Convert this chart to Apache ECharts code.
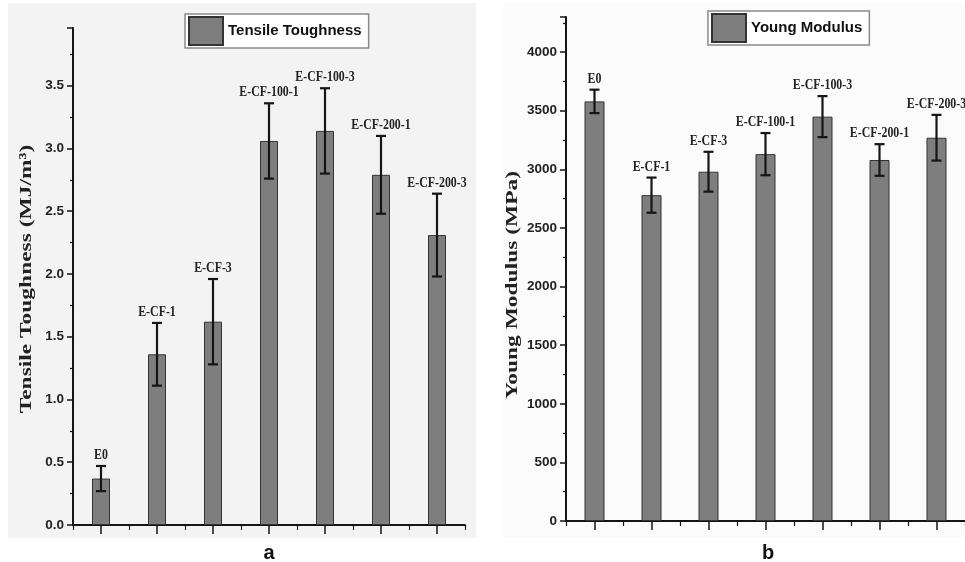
<!DOCTYPE html>
<html>
<head>
<meta charset="utf-8">
<script src="https://cdn.jsdelivr.net/npm/echarts@6/dist/echarts.min.js"></script>
<style>html,body{margin:0;padding:0;background:#fff}#c{width:965px;height:562px}</style>
</head>
<body>
<div id="c"></div>
<script>
const categories = ['E0', 'E-CF-1', 'E-CF-3', 'E-CF-100-1', 'E-CF-100-3', 'E-CF-200-1', 'E-CF-200-3'];
const toughness = [0.37, 1.36, 1.62, 3.06, 3.14, 2.79, 2.31];
const toughnessErr = [0.10, 0.25, 0.34, 0.30, 0.34, 0.31, 0.33];
const modulus = [3580, 2780, 2980, 3130, 3450, 3080, 3270];
const modulusErr = [100, 150, 170, 180, 175, 135, 195];

const SANS = '"Liberation Sans", Arial, sans-serif';
const SERIF = '"Liberation Serif", "Times New Roman", serif';
const INK = '#151515';

function errRender(params, api) {
  const i = api.value(0), v = api.value(1), e = api.value(2);
  const top = api.coord([i, v + e]);
  const bot = api.coord([i, v - e]);
  const hw = 5;
  const st = { stroke: INK, lineWidth: 2.2 };
  return {
    type: 'group',
    children: [
      { type: 'line', shape: { x1: top[0], y1: top[1], x2: bot[0], y2: bot[1] }, style: st },
      { type: 'line', shape: { x1: top[0] - hw, y1: top[1], x2: top[0] + hw, y2: top[1] }, style: st },
      { type: 'line', shape: { x1: bot[0] - hw, y1: bot[1], x2: bot[0] + hw, y2: bot[1] }, style: st },
      { type: 'text', x: top[0], y: top[1] - 3, scaleY: 1.22, scaleX: 0.95,
        style: { text: categories[i], align: 'center', verticalAlign: 'bottom',
                 font: 'bold 12.5px ' + SERIF, fill: '#222' } }
    ]
  };
}

function xAxes(gridIndex) {
  return [
    { gridIndex, type: 'category', position: 'bottom', data: categories, boundaryGap: true,
      axisLine: { show: true, lineStyle: { color: INK, width: 2 } },
      axisTick: { show: true, alignWithLabel: true, interval: 0, length: 9, lineStyle: { color: INK, width: 1.5 } },
      axisLabel: { show: false }, splitLine: { show: false } },
    { gridIndex, type: 'category', position: 'bottom', data: categories, boundaryGap: true,
      axisLine: { show: false },
      axisTick: { show: true, alignWithLabel: false, interval: 0, length: 5, lineStyle: { color: INK, width: 1.2 } },
      axisLabel: { show: false }, splitLine: { show: false } }
  ];
}

function yAxis(gridIndex, max, interval, fmt) {
  return {
    gridIndex, type: 'value', min: 0, max, interval,
    axisLine: { show: true, lineStyle: { color: INK, width: 2 } },
    axisTick: { show: true, length: 6, lineStyle: { color: INK, width: 1.5 } },
    minorTick: { show: true, splitNumber: 2, length: 3, lineStyle: { color: INK, width: 1.2 } },
    splitLine: { show: false },
    axisLabel: { formatter: fmt, showMaxLabel: false, margin: 9, fontSize: 13.5,
                 fontWeight: 'bold', color: '#222', fontFamily: SANS }
  };
}

const barStyle = { color: '#7e7e7e', borderColor: '#333', borderWidth: 1 };

const chart = echarts.init(document.getElementById('c'), null, { renderer: 'canvas' });
chart.setOption({
  animation: false,
  backgroundColor: '#ffffff',
  grid: [
    { left: 73, right: 500, top: 28, bottom: 37, outerBoundsMode: 'none', containLabel: false },
    { left: 566, right: 0, top: 17, bottom: 41, outerBoundsMode: 'none', containLabel: false }
  ],
  xAxis: [...xAxes(0), ...xAxes(1)],
  yAxis: [
    yAxis(0, 3.96, 0.5, v => v.toFixed(1)),
    yAxis(1, 4300, 500, v => String(v))
  ],
  legend: [
    { data: ['Tensile Toughness'], left: 185, top: 14, icon: 'rect', itemWidth: 34, itemHeight: 28,
      padding: [2, 7, 2, 3], itemGap: 5, borderColor: '#8a8a8a', borderWidth: 1.5, backgroundColor: '#fff',
      selectedMode: false,
      textStyle: { fontSize: 15, fontWeight: 'bold', color: '#111', fontFamily: SANS } },
    { data: ['Young Modulus'], left: 708, top: 11, icon: 'rect', itemWidth: 34, itemHeight: 28,
      padding: [2, 7, 2, 3], itemGap: 5, borderColor: '#8a8a8a', borderWidth: 1.5, backgroundColor: '#fff',
      selectedMode: false,
      textStyle: { fontSize: 15, fontWeight: 'bold', color: '#111', fontFamily: SANS } }
  ],
  graphic: [
    { type: 'rect', z: -10, shape: { x: 8, y: 3, width: 468, height: 535 }, style: { fill: '#f3f3f3' } },
    { type: 'rect', z: -10, shape: { x: 503, y: 3, width: 462, height: 535 }, style: { fill: '#fbfbfb' } },
    { type: 'text', x: 27, y: 279, rotation: Math.PI / 2, scaleX: 1.38,
      style: { text: 'Tensile Toughness (MJ/m³)', align: 'center', verticalAlign: 'middle',
               font: 'bold 17px ' + SERIF, fill: '#222' } },
    { type: 'text', x: 513, y: 285, rotation: Math.PI / 2, scaleX: 1.38,
      style: { text: 'Young Modulus (MPa)', align: 'center', verticalAlign: 'middle',
               font: 'bold 17px ' + SERIF, fill: '#222' } },
    { type: 'text', x: 269, y: 553, style: { text: 'a', align: 'center', verticalAlign: 'middle',
               font: 'bold 20px ' + SANS, fill: '#111' } },
    { type: 'text', x: 768, y: 553, style: { text: 'b', align: 'center', verticalAlign: 'middle',
               font: 'bold 20px ' + SANS, fill: '#111' } }
  ],
  series: [
    { name: 'Tensile Toughness', type: 'bar', xAxisIndex: 0, yAxisIndex: 0, barWidth: 18,
      itemStyle: barStyle, data: toughness },
    { name: 'toughErr', type: 'custom', xAxisIndex: 0, yAxisIndex: 0, renderItem: errRender,
      encode: { x: 0, y: 1 }, z: 5, clip: false,
      data: categories.map((c, i) => [i, toughness[i], toughnessErr[i]]) },
    { name: 'Young Modulus', type: 'bar', xAxisIndex: 2, yAxisIndex: 1, barWidth: 20,
      itemStyle: barStyle, data: modulus },
    { name: 'modErr', type: 'custom', xAxisIndex: 2, yAxisIndex: 1, renderItem: errRender,
      encode: { x: 0, y: 1 }, z: 5, clip: false,
      data: categories.map((c, i) => [i, modulus[i], modulusErr[i]]) }
  ]
});
</script>
</body>
</html>
